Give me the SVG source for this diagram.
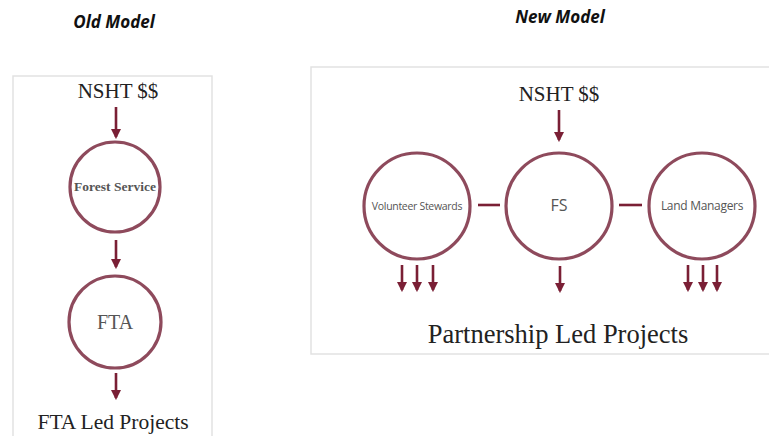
<svg xmlns="http://www.w3.org/2000/svg" width="769" height="436" viewBox="0 0 769 436">
  <defs>
    <marker id="head" viewBox="0 0 10 10" refX="8" refY="5" markerWidth="4" markerHeight="4" markerUnits="strokeWidth" orient="auto">
      <path d="M0,0 L10,5 L0,10 Z" fill="#7a1f35"/>
    </marker>
    <style>
      .panel { fill: #ffffff; stroke: #e2e2e2; stroke-width: 1.5; }
      .title { font-family: "Open Sans", "Liberation Sans", sans-serif; font-weight: bold; font-style: italic; font-size: 17px; fill: #111; text-anchor: middle; }
      .big { font-family: "Liberation Serif", serif; fill: #222; text-anchor: middle; }
      .ring { fill: #ffffff; stroke: #8e4a5c; stroke-width: 3.2; }
      .inner-serif { font-family: "Liberation Serif", serif; fill: #555; text-anchor: middle; }
      .inner-sans { font-family: "Open Sans", "Liberation Sans", sans-serif; fill: #555; text-anchor: middle; }
      .flow { stroke: #7a1f35; stroke-width: 2.6; fill: none; marker-end: url(#head); }
      .link { stroke: #7a1f35; stroke-width: 2.6; fill: none; }
    </style>
  </defs>
  <rect width="769" height="436" fill="#ffffff"/>

  <!-- Old model panel -->
  <text class="title" x="114" y="28">Old Model</text>
  <rect class="panel" x="13" y="76" width="199" height="380"/>
  <text class="big" x="118" y="98" font-size="21">NSHT $$</text>

  <g id="forest-service">
    <circle class="ring" cx="115" cy="187" r="45"/>
    <text class="inner-serif" x="115" y="191" font-size="13.5" font-weight="bold">Forest Service</text>
  </g>
  <g id="fta">
    <circle class="ring" cx="115" cy="322" r="46"/>
    <text class="inner-serif" x="115" y="329" font-size="20" fill="#444">FTA</text>
  </g>
  <text class="big" x="113" y="429" font-size="21.5">FTA Led Projects</text>

  <!-- New model panel -->
  <text class="title" x="560" y="23">New Model</text>
  <rect class="panel" x="311" y="67" width="470" height="287"/>
  <text class="big" x="559" y="101" font-size="21">NSHT $$</text>

  <g id="volunteer-stewards">
    <circle class="ring" cx="417" cy="206" r="53"/>
    <text class="inner-sans" x="417" y="210" font-size="10.5" letter-spacing="-0.3">Volunteer Stewards</text>
  </g>
  <g id="fs">
    <circle class="ring" cx="559" cy="206" r="53"/>
    <text class="inner-sans" x="559" y="211" font-size="16">FS</text>
  </g>
  <g id="land-managers">
    <circle class="ring" cx="702" cy="206" r="53"/>
    <text class="inner-sans" x="702" y="210" font-size="12" letter-spacing="-0.3">Land Managers</text>
  </g>
  <text class="big" x="558" y="343" font-size="26.5">Partnership Led Projects</text>

  <!-- Connectors -->
  <g id="connectors">
    <line class="flow" x1="116" y1="107" x2="116" y2="137"/>
    <line class="flow" x1="116" y1="240" x2="116" y2="267"/>
    <line class="flow" x1="116" y1="373" x2="116" y2="398"/>

    <line class="flow" x1="559" y1="110" x2="559" y2="140"/>
    <line class="link" x1="478" y1="205" x2="500" y2="205"/>
    <line class="link" x1="619" y1="205" x2="642" y2="205"/>

    <line class="flow" x1="402" y1="265" x2="402" y2="290"/>
    <line class="flow" x1="417" y1="265" x2="417" y2="290"/>
    <line class="flow" x1="433" y1="265" x2="433" y2="290"/>
    <line class="flow" x1="560" y1="266" x2="560" y2="291"/>
    <line class="flow" x1="688" y1="265" x2="688" y2="290"/>
    <line class="flow" x1="703" y1="265" x2="703" y2="290"/>
    <line class="flow" x1="717" y1="265" x2="717" y2="290"/>
  </g>
</svg>
